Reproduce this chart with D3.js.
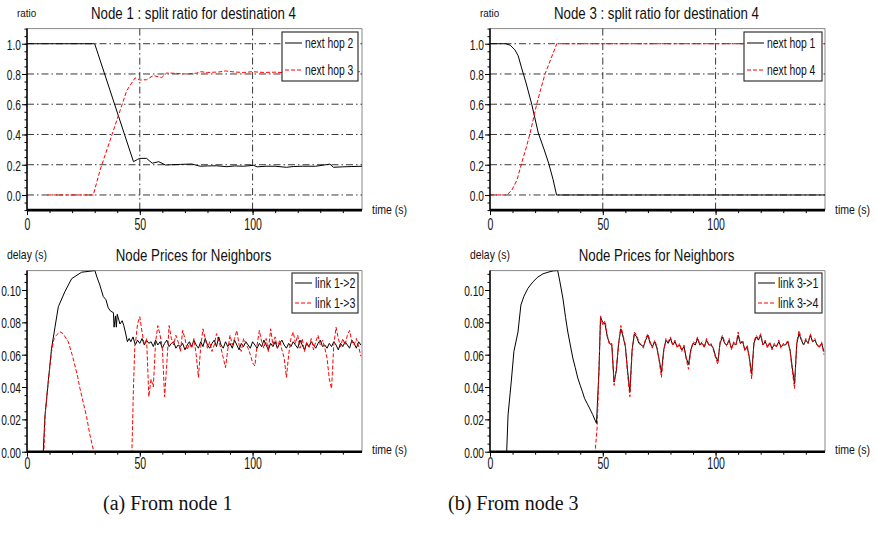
<!DOCTYPE html>
<meta charset="utf-8">
<style>

body {
  margin: 0;
  background: #fff;
}

text {
  font-family: "Liberation Sans", Arial, sans-serif;
  fill: #111;
}

.caption {
  font-family: "Liberation Serif", "Times New Roman", serif;
}

</style>
<body>
<script src="https://cdn.jsdelivr.net/npm/d3@7"></script>
<script>

// ---- data ([time s, value]) ----

// Node 1 split ratio for destination 4
var hop2 = [[0,1],[30,1],[47.2,0.22],[49,0.235],[50,0.242],[53,0.242],[55.5,0.21],[58.4,0.22],[61.4,0.198],
  [64,0.2],[68,0.202],[73,0.205],[76.8,0.19],[80,0.192],[84,0.193],[88.6,0.187],[92,0.192],[96,0.19],
  [100.4,0.196],[102,0.186],[106,0.19],[110,0.19],[115,0.183],[118,0.188],[122,0.19],[128,0.19],
  [134.3,0.204],[135.8,0.183],[140,0.186],[144,0.188],[148.5,0.19]];
var hop3 = [[9,0],[29.4,0],[32.4,0.165],[36.8,0.36],[41.3,0.56],[44.2,0.69],[47.9,0.774],[50.1,0.76],
  [53,0.762],[56,0.79],[59.7,0.776],[61.9,0.806],[65,0.805],[70,0.8],[75,0.805],[77,0.815],[80,0.81],
  [85,0.813],[88,0.82],[92,0.813],[96,0.81],[100,0.815],[105,0.81],[110,0.812],[115,0.808],[120,0.812],
  [125,0.81],[130,0.815],[135,0.812],[140,0.81],[145,0.81],[148.5,0.818]];

// Node 3 split ratio for destination 4
var hop1 = [[0,1],[7,1],[9,0.99],[11,0.96],[12.5,0.92],[14,0.84],[16,0.74],[18.5,0.6],[21.4,0.41],
  [24,0.3],[26,0.21],[28,0.1],[29.5,0],[148.5,0]];
var hop4 = [[0,0],[7.4,0],[9.6,0.03],[12,0.1],[14,0.21],[16,0.31],[17.8,0.41],[20.7,0.6],[22.5,0.7],
  [24.4,0.8],[27,0.9],[29.6,1],[148.5,1]];

// Node 1 prices: start-up phase, then one reading per second
var link12Start = [[6,0],[7.2,0],[8,0.0227],[9.4,0.043],[10.9,0.064],[12.4,0.077],[13.9,0.0897],
  [16.8,0.099],[19.8,0.107],[24.2,0.111],[30.1,0.112],[31,0.108],[32.3,0.103],[33.8,0.096],[35,0.094],
  [36,0.089],[37,0.087],[38.3,0.086],[38.6,0.077],[39.2,0.084],[39.6,0.077],[40,0.085],[41.2,0.079],
  [42.2,0.081],[42.9,0.078],[43.6,0.074],[44.5,0.068],[45.3,0.07]];
var link12From = 46;
var link12 = [
  .068,.071,.066,.069,.067,.070,.066,.069,.067,.068,
  .065,.069,.066,.068,.064,.067,.069,.065,.067,.068,
  .064,.066,.065,.067,.063,.066,.068,.065,.069,.066,
  .064,.068,.065,.070,.066,.064,.067,.069,.065,.071,
  .066,.064,.068,.065,.067,.064,.069,.066,.063,.067,
  .065,.068,.066,.064,.068,.066,.064,.067,.065,.069,
  .066,.063,.067,.065,.068,.064,.067,.069,.066,.064,
  .067,.065,.068,.066,.064,.069,.066,.063,.067,.065,
  .068,.066,.064,.067,.069,.065,.066,.064,.067,.065,
  .068,.066,.063,.067,.065,.068,.066,.064,.069,.067,
  .064,.068,.066];
var link13Start = [[6,0],[7.5,0],[8,0.022],[9.4,0.043],[10.9,0.062],[12,0.07],[13,0.072],[14.6,0.0742],
  [16,0.073],[18.3,0.068],[20,0.06],[21.2,0.0536],[22.5,0.046],[23.5,0.039],[25,0.03],[26.4,0.0217],
  [27.9,0.0103],[29.6,0],[46.5,0],[47.2,0.04],[47.8,0.066]];
var link13From = 48;
var link13 = [
  .066,.079,.0835,.074,.066,.070,.034,.045,.040,.068,
  .078,.072,.064,.034,.055,.078,.070,.066,.072,.068,
  .062,.075,.070,.063,.067,.064,.070,.060,.046,.065,
  .076,.070,.064,.068,.062,.066,.073,.068,.064,.058,
  .052,.063,.072,.066,.070,.075,.066,.062,.070,.067,
  .064,.060,.055,.053,.066,.075,.068,.064,.070,.062,
  .076,.066,.071,.064,.069,.063,.058,.046,.060,.070,
  .074,.067,.072,.064,.070,.062,.068,.064,.070,.063,
  .068,.072,.066,.069,.064,.058,.045,.039,.066,.077,
  .070,.065,.070,.066,.072,.075,.068,.066,.070,.065,
  .059];

// Node 3 prices
var link31Start = [[5,0],[7.4,0],[8,0.0227],[9.4,0.043],[10.6,0.062],[12.4,0.074],[13.7,0.0907],
  [15,0.096],[16.8,0.101],[19,0.105],[21.2,0.108],[23.5,0.11],[25.7,0.111],[28,0.1118],[30,0.112],
  [31,0.105],[32.3,0.095],[33.5,0.083],[34.5,0.074],[35.6,0.066],[36.7,0.058],[37.8,0.052],
  [38.9,0.0456],[40,0.041],[41,0.037],[41.9,0.033],[43,0.03],[44.1,0.027],[45.5,0.023],[47.2,0.0175],
  [48.3,0.05],[49,0.083]];
var link31From = 50;
var link31 = [
  .080,.079,.071,.067,.066,.043,.050,.067,.076,.071,
  .065,.050,.037,.063,.073,.071,.067,.066,.065,.069,
  .072,.067,.065,.068,.064,.057,.049,.063,.069,.067,
  .070,.066,.068,.065,.066,.063,.065,.058,.054,.063,
  .067,.066,.070,.066,.067,.065,.069,.066,.066,.064,
  .059,.056,.067,.071,.067,.066,.069,.064,.067,.066,
  .072,.067,.068,.063,.065,.058,.048,.067,.071,.069,
  .072,.066,.068,.065,.067,.064,.066,.065,.068,.065,
  .066,.066,.068,.063,.052,.042,.067,.073,.069,.066,
  .069,.067,.072,.068,.069,.066,.065,.067,.062];
var link34Start = [[40,0],[46.6,0],[47.5,0.015],[48.3,0.05],[49,0.084]];
var link34From = 50;
var link34 = [
  .078,.081,.072,.066,.067,.041,.052,.066,.078,.072,
  .066,.048,.034,.062,.074,.072,.068,.066,.064,.070,
  .073,.068,.064,.069,.065,.056,.046,.062,.070,.068,
  .071,.066,.069,.064,.067,.062,.066,.057,.051,.062,
  .068,.067,.071,.066,.068,.064,.070,.066,.067,.063,
  .058,.054,.068,.072,.068,.065,.070,.063,.068,.066,
  .074,.067,.069,.062,.066,.057,.045,.068,.072,.070,
  .073,.066,.069,.064,.068,.063,.067,.065,.069,.064,
  .067,.066,.069,.062,.050,.039,.068,.075,.070,.066,
  .070,.067,.073,.068,.070,.066,.064,.068,.060];

var ratioTicks = [0, 0.2, 0.4, 0.6, 0.8, 1.0],
    delayTicks = [0, 0.02, 0.04, 0.06, 0.08, 0.10],
    timeTicks = [0, 50, 100];

function perSecond(start, from, values) {
  return start.concat(values.map(function(v, i) { return [from + i, v]; }));
}

// ---- layout ----

var width = 875,
    height = 547,
    tMax = 148.5;

var panels = [
  {left: 27, top: 28.6, bottom: 210.1, dom: [-0.1, 1.1], ticks: ratioTicks, minor: 0.05, fmt: ".1f",
   grid: true, title: "Node 1 : split ratio for destination 4", ylab: "ratio", ylabX: 17, ylabY: 17, xlabDy: 20, timeDy: 4,
   legend: {x: 282, y: 32, w: 76, h: 49, row: 27, sx: 0.74},
   series: [{name: "next hop 2", data: hop2, red: false}, {name: "next hop 3", data: hop3, red: true}]},
  {left: 490, top: 28.6, bottom: 210.1, dom: [-0.1, 1.1], ticks: ratioTicks, minor: 0.05, fmt: ".1f",
   grid: true, title: "Node 3 : split ratio for destination 4", ylab: "ratio", ylabX: 480, ylabY: 17, xlabDy: 20, timeDy: 4,
   legend: {x: 744, y: 32, w: 78, h: 49, row: 27, sx: 0.74},
   series: [{name: "next hop 1", data: hop1, red: false}, {name: "next hop 4", data: hop4, red: true}]},
  {left: 27, top: 270.6, bottom: 451.7, dom: [0, 0.112], ticks: delayTicks, minor: 0.005, fmt: ".2f",
   grid: false, title: "Node Prices for Neighbors", ylab: "delay (s)", ylabX: 7, ylabY: 259, xlabDy: 17, timeDy: 2,
   legend: {x: 292, y: 273, w: 66, h: 40, row: 20, sx: 0.76},
   series: [{name: "link 1->2", data: perSecond(link12Start, link12From, link12), red: false},
            {name: "link 1->3", data: perSecond(link13Start, link13From, link13), red: true}]},
  {left: 490, top: 270.6, bottom: 451.7, dom: [0, 0.112], ticks: delayTicks, minor: 0.005, fmt: ".2f",
   grid: false, title: "Node Prices for Neighbors", ylab: "delay (s)", ylabX: 470, ylabY: 259, xlabDy: 17, timeDy: 2,
   legend: {x: 755, y: 273, w: 67, h: 40, row: 20, sx: 0.76},
   series: [{name: "link 3->1", data: perSecond(link31Start, link31From, link31), red: false},
            {name: "link 3->4", data: perSecond(link34Start, link34From, link34), red: true}]}
];

var svg = d3.select("body").append("svg")
    .attr("width", width)
    .attr("height", height);

// narrow helvetica-ish text: squeeze horizontally
function label(g, x, y, str, size, sx, anchor) {
  return g.append("text")
      .attr("transform", "translate(" + x + "," + y + ") scale(" + sx + ",1)")
      .attr("font-size", size)
      .attr("text-anchor", anchor || "start")
      .text(str);
}

function styleLine(sel, red) {
  sel.attr("fill", "none")
     .attr("stroke", red ? "#f00" : "#000")
     .attr("stroke-width", 1)
     .attr("stroke-dasharray", red ? "4,2" : null);
}

panels.forEach(function(p, pi) {
  var right = p.left + 335;
  var x = d3.scaleLinear().domain([0, tMax]).range([p.left, right]);
  var y = d3.scaleLinear().domain(p.dom).range([p.bottom, p.top]);
  var g = svg.append("g");

  g.append("clipPath").attr("id", "clip" + pi)
    .append("rect")
      .attr("x", p.left).attr("y", p.top)
      .attr("width", right - p.left).attr("height", p.bottom - p.top);

  // frame (top + right)
  g.append("path")
      .attr("d", "M" + p.left + "," + p.top + "H" + right + "V" + p.bottom)
      .attr("fill", "none")
      .attr("stroke", "#888")
      .attr("stroke-width", 1);

  if (p.grid) {
    g.selectAll(".hgrid").data(p.ticks).enter().append("line")
        .attr("x1", p.left).attr("x2", right)
        .attr("y1", function(d) { return y(d); }).attr("y2", function(d) { return y(d); })
        .attr("stroke", "#222").attr("stroke-width", 0.9)
        .attr("stroke-dasharray", "7,3,1.5,3");
    g.selectAll(".vgrid").data(timeTicks.slice(1)).enter().append("line")
        .attr("y1", p.top).attr("y2", p.bottom)
        .attr("x1", function(d) { return x(d); }).attr("x2", function(d) { return x(d); })
        .attr("stroke", "#222").attr("stroke-width", 0.9)
        .attr("stroke-dasharray", "7,3,1.5,3");
  }

  var line = d3.line()
      .x(function(d) { return x(d[0]); })
      .y(function(d) { return y(d[1]); });

  var plot = g.append("g").attr("clip-path", "url(#clip" + pi + ")");
  p.series.forEach(function(s) {
    plot.append("path").datum(s.data).attr("d", line).call(styleLine, s.red);
  });

  // y axis
  var yMinor = d3.range(p.dom[0], p.dom[1] + 1e-9, p.minor);
  g.append("g")
      .attr("transform", "translate(" + p.left + ",0)")
      .call(d3.axisLeft(y).tickValues(yMinor).tickSize(2.5).tickFormat(""))
      .call(function(a) { a.select(".domain").remove(); });
  var ya = g.append("g")
      .attr("transform", "translate(" + p.left + ",0)")
      .call(d3.axisLeft(y).tickValues(p.ticks).tickSize(5).tickFormat(d3.format(p.fmt)));
  ya.select(".domain").remove();
  ya.selectAll("text")
      .attr("font-size", 15)
      .attr("fill", "#111")
      .attr("font-family", "Liberation Sans, Arial, sans-serif")
      .attr("transform", "scale(0.68,1)")
      .attr("x", -6 / 0.68)
      .attr("dy", "0.36em");
  g.append("line")
      .attr("x1", p.left).attr("x2", p.left)
      .attr("y1", p.top).attr("y2", p.bottom)
      .attr("stroke", "#000").attr("stroke-width", 1.6);

  // x axis
  g.append("g")
      .attr("transform", "translate(0," + p.bottom + ")")
      .call(d3.axisBottom(x).tickValues(d3.range(0, tMax, 10)).tickSize(3).tickFormat(""))
      .call(function(a) { a.select(".domain").remove(); });
  var xa = g.append("g")
      .attr("transform", "translate(0," + p.bottom + ")")
      .call(d3.axisBottom(x).tickValues(timeTicks).tickSize(5));
  xa.select(".domain").remove();
  xa.selectAll("text")
      .attr("font-size", 16)
      .attr("fill", "#111")
      .attr("font-family", "Liberation Sans, Arial, sans-serif")
      .attr("transform", "scale(0.66,1)")
      .attr("y", p.xlabDy)
      .attr("dy", 0);
  g.append("line")
      .attr("x1", p.left).attr("x2", right)
      .attr("y1", p.bottom).attr("y2", p.bottom)
      .attr("stroke", "#000").attr("stroke-width", 2.6);

  // labels
  label(g, (p.left + right) / 2 - 1, p.top - 9.5, p.title, 16, 0.83, "middle");
  label(g, p.ylabX, p.ylabY, p.ylab, p.ylab === "ratio" ? 11 : 13, p.ylab === "ratio" ? 0.9 : 0.8);
  label(g, right + 10, p.bottom + p.timeDy, "time (s)", 13.5, 0.78);

  // legend
  var L = p.legend;
  var lg = g.append("g").attr("transform", "translate(" + L.x + "," + L.y + ")");
  lg.append("rect")
      .attr("width", L.w).attr("height", L.h)
      .attr("fill", "#fff").attr("stroke", "#222").attr("stroke-width", 1.1);
  p.series.forEach(function(s, i) {
    var cy = (L.h - L.row) / 2 + i * L.row;
    lg.append("line")
        .attr("x1", 3).attr("x2", 20)
        .attr("y1", cy).attr("y2", cy)
        .call(styleLine, s.red);
    label(lg, 23, cy + 5, s.name, 14, L.sx);
  });
});

svg.append("text").attr("class", "caption")
    .attr("x", 103).attr("y", 510)
    .attr("font-size", 20)
    .text("(a) From node 1");
svg.append("text").attr("class", "caption")
    .attr("x", 448).attr("y", 510)
    .attr("font-size", 20)
    .text("(b) From node 3");

</script>
